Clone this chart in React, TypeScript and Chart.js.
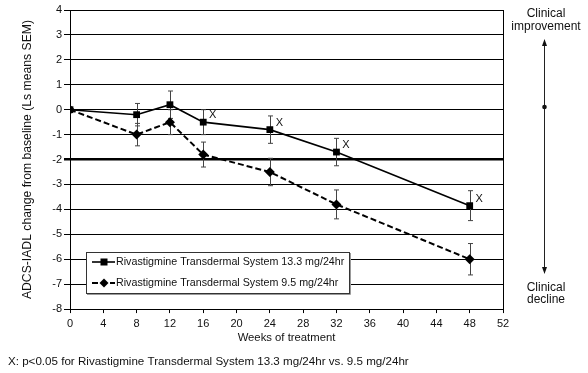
import React, { useEffect, useRef } from "react";
import Chart from "chart.js/auto";

const weeks = [0, 8, 12, 16, 24, 32, 48];
const highDose = [0, -0.2, 0.2, -0.5, -0.8, -1.7, -3.85];
const highSem = [0, 0.45, 0.55, 0.5, 0.55, 0.55, 0.6];
const lowDose = [0, -1.0, -0.5, -1.8, -2.5, -3.8, -6.0];
const lowSem = [0, 0.45, 0.5, 0.5, 0.55, 0.58, 0.63];
const significant = [false, false, false, true, true, true, true];
const seriesLabels = [
  "Rivastigmine Transdermal System 13.3 mg/24hr",
  "Rivastigmine Transdermal System 9.5 mg/24hr",
];
const yTitle = "ADCS-IADL change from baseline (Ls means SEM)";
const xTitle = "Weeks of treatment";
const footnote = "X: p<0.05 for Rivastigmine Transdermal System 13.3 mg/24hr vs. 9.5 mg/24hr";
const sigMark = "X";
const topNote = ["Clinical", "improvement"];
const bottomNote = ["Clinical", "decline"];

const FONT = '"Liberation Sans", Arial, sans-serif';

export default function App() {
  const ref = useRef<HTMLCanvasElement | null>(null);
  useEffect(() => {
    const canvas = ref.current;
    if (!canvas) return;

    const sems = [highSem, lowSem];

    const extras = {
      id: "extras",
      beforeDatasetsDraw(chart: any) {
        const ctx = chart.ctx;
        const xs = chart.scales.x;
        const ys = chart.scales.y;
        ctx.save();
        ctx.strokeStyle = "#444";
        ctx.lineWidth = 1;
        [highDose, lowDose].forEach((vals, si) => {
          vals.forEach((v, i) => {
            const s = sems[si][i];
            if (!s) return;
            const px = Math.round(xs.getPixelForValue(weeks[i])) + 0.5;
            const y1 = ys.getPixelForValue(v + s);
            const y2 = ys.getPixelForValue(v - s);
            ctx.beginPath();
            ctx.moveTo(px, y1);
            ctx.lineTo(px, y2);
            ctx.moveTo(px - 2.5, y1);
            ctx.lineTo(px + 2.5, y1);
            ctx.moveTo(px - 2.5, y2);
            ctx.lineTo(px + 2.5, y2);
            ctx.stroke();
          });
        });
        ctx.restore();
      },
      afterDraw(chart: any) {
        const ctx = chart.ctx;
        const xs = chart.scales.x;
        const ys = chart.scales.y;
        const a = chart.chartArea;
        ctx.save();
        // frame
        ctx.strokeStyle = "#000";
        ctx.lineWidth = 1;
        ctx.beginPath();
        ctx.moveTo(Math.round(a.right) + 0.5, a.top);
        ctx.lineTo(Math.round(a.right) + 0.5, a.bottom);
        ctx.stroke();

        // significance marks
        ctx.fillStyle = "#111";
        ctx.font = `11px ${FONT}`;
        ctx.textAlign = "center";
        ctx.textBaseline = "middle";
        highDose.forEach((v, i) => {
          if (!significant[i]) return;
          const px = xs.getPixelForValue(weeks[i]);
          const py = ys.getPixelForValue(v);
          ctx.fillText(sigMark, px + 9.5, py - 7);
        });

        // legend
        const lx = 86, ly = 252, lw = 263, lh = 41;
        ctx.fillStyle = "#fff";
        ctx.fillRect(lx, ly, lw, lh);
        ctx.strokeStyle = "#999";
        ctx.beginPath();
        ctx.moveTo(lx + 1, ly + lh + 1.5);
        ctx.lineTo(lx + lw + 1.5, ly + lh + 1.5);
        ctx.lineTo(lx + lw + 1.5, ly + 1);
        ctx.stroke();
        ctx.strokeStyle = "#333";
        ctx.strokeRect(lx + 0.5, ly + 0.5, lw, lh);
        const rows = [262, 283];
        chart.data.datasets.forEach((ds: any, i: number) => {
          const ry = rows[i];
          ctx.strokeStyle = "#000";
          ctx.lineWidth = ds.borderWidth;
          ctx.setLineDash(ds.borderDash || []);
          ctx.beginPath();
          ctx.moveTo(lx + 6, ry);
          ctx.lineTo(lx + 29, ry);
          ctx.stroke();
          ctx.setLineDash([]);
          ctx.fillStyle = "#000";
          const mx = lx + 18;
          if (i === 0) {
            ctx.fillRect(mx - 3.5, ry - 3.5, 7, 7);
          } else {
            ctx.beginPath();
            ctx.moveTo(mx, ry - 4.5);
            ctx.lineTo(mx + 4.5, ry);
            ctx.lineTo(mx, ry + 4.5);
            ctx.lineTo(mx - 4.5, ry);
            ctx.closePath();
            ctx.fill();
          }
          ctx.fillStyle = "#111";
          ctx.font = `10.7px ${FONT}`;
          ctx.textAlign = "left";
          ctx.textBaseline = "middle";
          ctx.fillText(ds.label, lx + 30, ry);
        });

        // right annotation
        const cx = 546;
        ctx.fillStyle = "#111";
        ctx.font = `12px ${FONT}`;
        ctx.textAlign = "center";
        ctx.textBaseline = "middle";
        ctx.fillText(topNote[0], cx, 14);
        ctx.fillText(topNote[1], cx, 27);
        ctx.fillText(bottomNote[0], cx, 288);
        ctx.fillText(bottomNote[1], cx, 300);
        const ax = 544.5;
        ctx.strokeStyle = "#222";
        ctx.lineWidth = 1;
        ctx.beginPath();
        ctx.moveTo(ax, 44);
        ctx.lineTo(ax, 268);
        ctx.stroke();
        ctx.fillStyle = "#111";
        ctx.beginPath();
        ctx.moveTo(ax, 39);
        ctx.lineTo(ax + 2.5, 46);
        ctx.lineTo(ax - 2.5, 46);
        ctx.closePath();
        ctx.fill();
        ctx.beginPath();
        ctx.moveTo(ax, 274);
        ctx.lineTo(ax + 2.5, 267);
        ctx.lineTo(ax - 2.5, 267);
        ctx.closePath();
        ctx.fill();
        ctx.beginPath();
        ctx.arc(ax, 107, 2.3, 0, Math.PI * 2);
        ctx.fill();
        ctx.restore();
      },
    };

    const chart = new Chart(canvas, {
      type: "line",
      data: {
        datasets: [
          {
            label: seriesLabels[0],
            data: weeks.map((w, i) => ({ x: w, y: highDose[i] })),
            borderColor: "#000",
            backgroundColor: "#000",
            borderWidth: 1.6,
            pointStyle: "rect",
            pointRadius: 4.8,
            pointBorderWidth: 0,
            tension: 0,
          },
          {
            label: seriesLabels[1],
            data: weeks.map((w, i) => ({ x: w, y: lowDose[i] })),
            borderColor: "#000",
            backgroundColor: "#000",
            borderWidth: 2,
            borderDash: [6, 3],
            pointStyle: "rectRot",
            pointRadius: 5,
            pointBorderWidth: 0,
            tension: 0,
          },
        ],
      },
      options: {
        animation: false,
        responsive: false,
        maintainAspectRatio: false,
        layout: { padding: { left: 8, right: 85, top: 10, bottom: 4 } },
        plugins: {
          legend: { display: false },
          tooltip: { enabled: false },
          title: {
            display: true,
            text: footnote,
            position: "bottom",
            align: "start",
            color: "#111",
            font: { family: FONT, size: 11.6, weight: "normal" },
            padding: { top: 9, bottom: 0 },
          },
        },
        scales: {
          x: {
            type: "linear",
            min: 0,
            max: 52,
            afterFit(scale: any) {
              scale.height = 37;
            },
            ticks: {
              stepSize: 4,
              color: "#111",
              font: { family: FONT, size: 11 },
              padding: 4,
              maxRotation: 0,
            },
            grid: {
              drawOnChartArea: false,
              drawTicks: true,
              tickLength: 4,
              color: "#000",
            },
            border: { display: true, color: "#000", width: 1 },
            title: {
              display: true,
              text: xTitle,
              color: "#111",
              font: { family: FONT, size: 11.3 },
              padding: { top: 0, bottom: 1 },
            },
          },
          y: {
            type: "linear",
            min: -8,
            max: 4,
            afterFit(scale: any) {
              scale.width = 62;
            },
            ticks: {
              stepSize: 1,
              color: "#111",
              font: { family: FONT, size: 11 },
              padding: 2,
            },
            grid: {
              color: "#000",
              lineWidth: (c: any) => (c.tick && c.tick.value === -2 ? 2.5 : 1),
              drawTicks: true,
              tickLength: 6,
            },
            border: { display: true, color: "#000", width: 1 },
            title: {
              display: true,
              text: yTitle,
              color: "#111",
              font: { family: FONT, size: 12.2 },
              padding: { top: 12, bottom: 0 },
            },
          },
        },
      },
      plugins: [extras],
    });
    return () => chart.destroy();
  }, []);

  return (
    <div style={{ position: "absolute", left: 0, top: 0, width: 588, height: 373, background: "#fff" }}>
      <canvas ref={ref} width={588} height={373} style={{ display: "block" }} />
    </div>
  );
}
